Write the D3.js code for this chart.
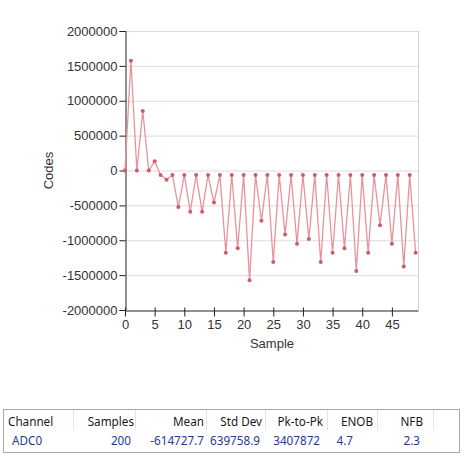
<!DOCTYPE html>
<html>
<head>
<meta charset="utf-8">
<script src="https://cdn.jsdelivr.net/npm/d3@7"></script>
<style>
  body { margin: 0; background: #fff; }
  svg text { font-family: "Liberation Sans", Arial, sans-serif; }
  .tbl text { font-family: "Noto Sans", "Open Sans", sans-serif; font-size: 11.7px; }
</style>
</head>
<body>
<svg id="chart" width="465" height="460"></svg>
<script>
// sample codes (first 50 of 200 samples)
var codes = [0, 1572864, 0, 851968, 0, 131072, -65536, -131072, -65536, -524288,
  -65536, -589824, -65536, -589824, -65536, -458752, -65536, -1179648, -65536, -1114112,
  -65536, -1572864, -65536, -720896, -65536, -1310720, -65536, -917504, -65536, -1048576,
  -65536, -983040, -65536, -1310720, -65536, -1179648, -65536, -1114112, -65536, -1441792,
  -65536, -1179648, -65536, -786432, -65536, -1048576, -65536, -1376256, -65536, -1179648];
var yTicks = [-2000000, -1500000, -1000000, -500000, 0, 500000, 1000000, 1500000, 2000000];
var xTicks = [0, 5, 10, 15, 20, 25, 30, 35, 40, 45];

// stats table
var headers = ["Channel", "Samples", "Mean", "Std Dev", "Pk-to-Pk", "ENOB", "NFB"];
var row = ["ADC0", "200", "-614727.7", "639758.9", "3407872", "4.7", "2.3"];

var svg = d3.select("#chart");

var x = d3.scaleLinear().domain([0, 49.4]).range([125, 418]);
var y = d3.scaleLinear().domain([-2000000, 2000000]).range([310, 31]);

// grid
svg.append("g")
  .selectAll("line")
  .data(yTicks.slice(1))
  .enter().append("line")
    .attr("x1", x(0)).attr("x2", x(49.4))
    .attr("y1", function(d) { return y(d) + 0.5; })
    .attr("y2", function(d) { return y(d) + 0.5; })
    .attr("stroke", "#dcdcdc");

// right border
svg.append("line")
  .attr("x1", x(49.4) + 0.5).attr("x2", x(49.4) + 0.5)
  .attr("y1", y(2000000)).attr("y2", y(-2000000))
  .attr("stroke", "#d0d0d0");

// axes
var yAxis = svg.append("g")
  .attr("transform", "translate(" + (x(0) + 0.5) + ",0)")
  .call(d3.axisLeft(y).tickValues(yTicks).tickSize(6)
    .tickFormat(function(d) { return String(d); }));

var xAxis = svg.append("g")
  .attr("transform", "translate(0," + (y(-2000000) + 0.5) + ")")
  .call(d3.axisBottom(x).tickValues(xTicks).tickSize(6).tickSizeOuter(0));

[yAxis, xAxis].forEach(function(a) {
  a.selectAll("text")
    .style("font-size", "13px")
    .style("font-family", "'Liberation Sans', Arial, sans-serif")
    .style("fill", "#333");
  a.select(".domain").attr("stroke", "#222");
  a.selectAll(".tick line").attr("stroke", "#222");
});
yAxis.selectAll("text").attr("x", -8);
xAxis.selectAll(".tick line").attr("y1", -3);
xAxis.selectAll("text").attr("y", 9);

// axis titles
svg.append("text")
  .attr("transform", "translate(48," + y(0) + ") rotate(-90)")
  .attr("text-anchor", "middle")
  .attr("dy", "0.35em")
  .style("font-size", "13px")
  .style("fill", "#333")
  .text("Codes");

svg.append("text")
  .attr("x", 272)
  .attr("y", 348)
  .attr("text-anchor", "middle")
  .style("font-size", "13px")
  .style("fill", "#333")
  .text("Sample");

// line + points
var line = d3.line()
  .x(function(d, i) { return x(i); })
  .y(function(d) { return y(d); });

svg.append("path")
  .datum(codes)
  .attr("d", line)
  .attr("fill", "none")
  .attr("stroke", "#e8939b")
  .attr("stroke-width", 1.3);

svg.append("g")
  .selectAll("circle")
  .data(codes)
  .enter().append("circle")
    .attr("cx", function(d, i) { return x(i); })
    .attr("cy", function(d) { return y(d); })
    .attr("r", 2)
    .style("fill", "#d2596a");

// table
var tbl = svg.append("g").attr("class", "tbl");
var colEnd = [null, 134, 204, 262, 323, 373, 423];
var valEnd = [null, 131, 204, 260, 320, 353, 420];
var seps = [73, 135, 206, 265, 327, 377, 433];

tbl.append("rect")
  .attr("x", 3.5).attr("y", 409.5)
  .attr("width", 456).attr("height", 43)
  .attr("fill", "#fff")
  .attr("stroke", "#a8a8a8");

tbl.selectAll("line.sep")
  .data(seps)
  .enter().append("line")
    .attr("class", "sep")
    .attr("x1", function(d) { return d + 0.5; })
    .attr("x2", function(d) { return d + 0.5; })
    .attr("y1", 410).attr("y2", 430)
    .attr("stroke", "#e3e3e3");

tbl.selectAll("text.hdr")
  .data(headers)
  .enter().append("text")
    .attr("class", "hdr")
    .attr("x", function(d, i) { return i === 0 ? 8 : colEnd[i]; })
    .attr("y", 426)
    .attr("text-anchor", function(d, i) { return i === 0 ? "start" : "end"; })
    .style("fill", "#1a1a1a")
    .text(function(d) { return d; });

tbl.selectAll("text.val")
  .data(row)
  .enter().append("text")
    .attr("class", "val")
    .attr("x", function(d, i) { return i === 0 ? 12 : valEnd[i]; })
    .attr("y", 445)
    .attr("text-anchor", function(d, i) { return i === 0 ? "start" : "end"; })
    .style("fill", "#243a8c")
    .text(function(d) { return d; });
</script>
</body>
</html>
